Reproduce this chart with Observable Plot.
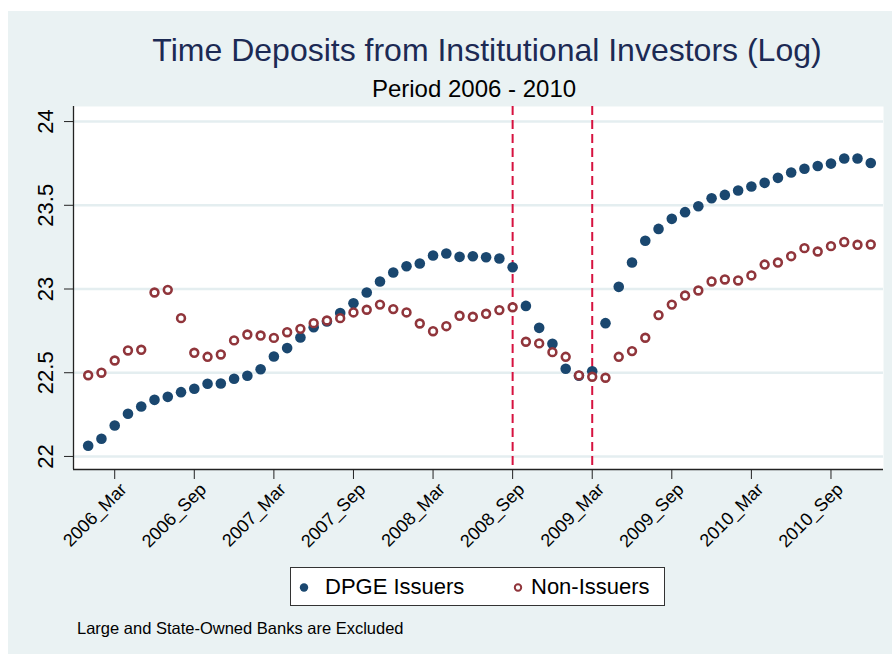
<!DOCTYPE html>
<html><head><meta charset="utf-8">
<script src="https://cdn.jsdelivr.net/npm/d3@7"></script>
<script src="https://cdn.jsdelivr.net/npm/@observablehq/plot@0.6"></script>
<style>
html,body{margin:0;padding:0;background:#ffffff;}
#wrap{position:relative;width:892px;height:654px;background:#ffffff;font-family:"Liberation Sans",Arial,sans-serif;overflow:hidden}
#bg{position:absolute;left:8px;top:11px;right:0;bottom:0;background:#eaf2f3}
#title{position:absolute;left:87px;width:800px;top:34px;text-align:center;font-size:32px;color:#1c2a54;line-height:1;white-space:nowrap}
#subtitle{position:absolute;left:74px;width:800px;top:77px;text-align:center;font-size:24px;color:#000;line-height:1;white-space:nowrap}
#chart{position:absolute;left:0;top:0}
#legend{position:absolute;left:290px;top:567px;width:373px;height:37px;background:#fff;border:1px solid #333;box-sizing:content-box}
.item{position:absolute;top:8px;font-size:22px;line-height:1;color:#000;white-space:nowrap}
#caption{position:absolute;left:77px;top:620px;font-size:16.5px;line-height:1;color:#000;white-space:nowrap}
</style></head><body>
<div id="wrap"><div id="bg"></div><div id="chart"></div>
<div id="title"></div><div id="subtitle"></div>
<div id="legend"></div><div id="caption"></div></div>
<script>
const titleText = "Time Deposits from Institutional Investors (Log)";
const subtitleText = "Period 2006 - 2010";
const captionText = "Large and State-Owned Banks are Excluded";
const seriesNames = ["DPGE Issuers", "Non-Issuers"];

const months = [
 "2006_Jan","2006_Feb","2006_Mar","2006_Apr","2006_May","2006_Jun","2006_Jul","2006_Aug","2006_Sep","2006_Oct","2006_Nov","2006_Dec",
 "2007_Jan","2007_Feb","2007_Mar","2007_Apr","2007_May","2007_Jun","2007_Jul","2007_Aug","2007_Sep","2007_Oct","2007_Nov","2007_Dec",
 "2008_Jan","2008_Feb","2008_Mar","2008_Apr","2008_May","2008_Jun","2008_Jul","2008_Aug","2008_Sep","2008_Oct","2008_Nov","2008_Dec",
 "2009_Jan","2009_Feb","2009_Mar","2009_Apr","2009_May","2009_Jun","2009_Jul","2009_Aug","2009_Sep","2009_Oct","2009_Nov","2009_Dec",
 "2010_Jan","2010_Feb","2010_Mar","2010_Apr","2010_May","2010_Jun","2010_Jul","2010_Aug","2010_Sep","2010_Oct","2010_Nov","2010_Dec"];

const dpge = [
 22.064,22.106,22.185,22.255,22.298,22.338,22.356,22.384,22.404,22.434,22.436,22.464,
 22.482,22.521,22.597,22.647,22.710,22.772,22.806,22.856,22.915,22.979,23.045,23.099,
 23.136,23.152,23.200,23.212,23.192,23.196,23.190,23.182,23.130,22.899,22.768,22.673,
 22.524,22.482,22.509,22.796,23.013,23.158,23.288,23.359,23.419,23.459,23.494,23.542,
 23.562,23.588,23.612,23.634,23.664,23.696,23.718,23.735,23.749,23.779,23.779,23.753];

const nonIssuers = [
 22.485,22.500,22.573,22.633,22.637,22.979,22.995,22.826,22.619,22.595,22.609,22.693,
 22.728,22.722,22.708,22.742,22.762,22.796,22.812,22.826,22.860,22.876,22.907,22.880,
 22.860,22.794,22.748,22.778,22.840,22.834,22.852,22.874,22.891,22.685,22.675,22.623,
 22.595,22.484,22.476,22.470,22.595,22.629,22.709,22.844,22.907,22.961,22.991,23.045,
 23.057,23.051,23.081,23.146,23.158,23.196,23.244,23.224,23.256,23.281,23.264,23.266];

const xTickLabels = ["2006_Mar","2006_Sep","2007_Mar","2007_Sep","2008_Mar","2008_Sep","2009_Mar","2009_Sep","2010_Mar","2010_Sep"];
const yTicks = [22, 22.5, 23, 23.5, 24];
const eventMonths = ["2008_Sep","2009_Mar"];

const BLUE = "#1a476f", RED = "#90353b", DASH = "#d6123f";

const rows = months.map((m, i) => ({i, m, dpge: dpge[i], non: nonIssuers[i]}));
const xTicks = xTickLabels.map(l => months.indexOf(l));
const events = eventMonths.map(l => months.indexOf(l));
const X0 = -1.107, Y0 = 21.922;

const chart = Plot.plot({
  width: 892, height: 560,
  marginLeft: 73, marginRight: 9, marginTop: 106, marginBottom: 91,
  style: {background: "transparent", fontFamily: "'Liberation Sans', Arial, sans-serif", color: "#000"},
  x: {type: "linear", domain: [X0, 59.96]},
  y: {domain: [Y0, 24.09]},
  marks: [
    Plot.frame({fill: "#fff", stroke: null}),
    Plot.gridY(yTicks, {stroke: "#e4eef0", strokeOpacity: 1, strokeWidth: 2.5}),
    Plot.ruleX(events, {stroke: DASH, strokeWidth: 2, strokeDasharray: "9,5"}),
    Plot.dot(rows, {x: "i", y: "dpge", r: 5.3, fill: BLUE, stroke: null}),
    Plot.dot(rows, {x: "i", y: "non", r: 3.9, fill: "#fff", stroke: RED, strokeWidth: 2.6}),
    Plot.ruleX([X0], {stroke: "#222", strokeWidth: 1.3}),
    Plot.ruleY([Y0], {stroke: "#222", strokeWidth: 1.3}),
    Plot.axisY(yTicks, {tickSize: 9, tickFormat: () => "", stroke: "#222", label: null}),
    Plot.text(yTicks, {x: X0, y: d => d, text: d => String(d), rotate: -90, dx: -28, fontSize: 22, textAnchor: "middle", lineAnchor: "middle", fill: "#000"}),
    Plot.axisX(xTicks, {tickSize: 10, tickFormat: () => "", stroke: "#222", label: null}),
    Plot.text(xTicks, {x: d => d, y: Y0, text: d => months[d], rotate: -45, dx: 4, dy: 12, fontSize: 18, textAnchor: "end", lineAnchor: "top", fill: "#000"})
  ]
});
document.getElementById("chart").appendChild(chart);

document.getElementById("title").textContent = titleText;
document.getElementById("subtitle").textContent = subtitleText;
document.getElementById("caption").textContent = captionText;

const leg = document.getElementById("legend");
leg.innerHTML =
  `<svg width="373" height="37" style="position:absolute;left:0;top:0">
     <circle cx="13" cy="19.5" r="4.2" fill="${BLUE}"/>
     <circle cx="227" cy="19.5" r="3.2" fill="#fff" stroke="${RED}" stroke-width="2"/>
   </svg>
   <div class="item" style="left:34px">${seriesNames[0]}</div>
   <div class="item" style="left:240px">${seriesNames[1]}</div>`;
</script>
</body></html>
